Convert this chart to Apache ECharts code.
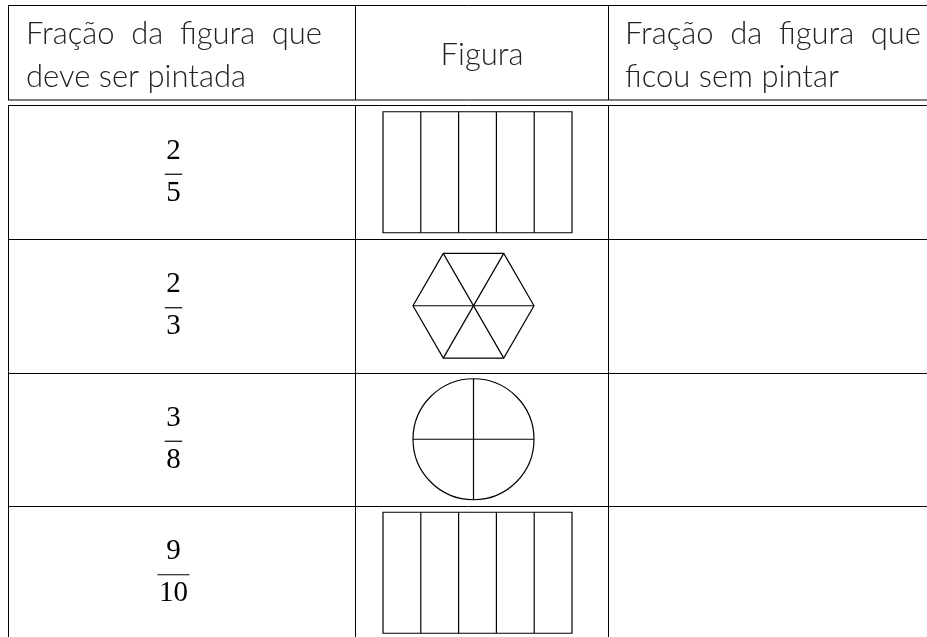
<!DOCTYPE html>
<html>
<head>
<meta charset="utf-8">
<script src="https://cdn.jsdelivr.net/npm/echarts@6/dist/echarts.min.js"></script>
<style>
html,body{margin:0;padding:0;background:#fff;}
#chart{width:927px;height:637px;}
</style>
</head>
<body>
<div id="chart"></div>
<script>
// ---- data ----
const headerCol1 = ['Fração da figura que', 'deve ser pintada'];
const headerCol2 = ['Figura'];
const headerCol3 = ['Fração da figura que', 'ficou sem pintar'];
const numerators = [2, 2, 3, 9];
const denominators = [5, 3, 8, 10];
const figureShapes = ['rectangle', 'hexagon', 'circle', 'rectangle'];
const figureParts = [5, 6, 4, 5];

// ---- layout (page units on a 927 x 637 value plane) ----
const W = 927, H = 637;
const layout = {
  left: 8.5, col1: 355.5, col2: 608.5, right: 927,
  top: 5.5, headLine1: 100, headLine2: 105.5, rowH: 133.5,
  fracX: 173.5, fracNumDy: -21, fracDenDy: 21, fracBarDy: 2,
  figRectCx: 477.5, figRoundCx: 473.5,
  rectW: 189, rectH: 121, hexR: 60.5, circR: 60.5,
  headFont: '300 31px Lato', fracFont: '29px "Liberation Serif", "DejaVu Serif", serif',
  head1X: 26, head3X: 625, justifyW: 296, head1Y: 34, head2Y: 77, headMidY: 55
};

const mctx = document.createElement('canvas').getContext('2d');
function textWidth(t, font){ mctx.font = font; return mctx.measureText(t).width; }

const chart = echarts.init(document.getElementById('chart'), null, {renderer: 'canvas'});

function lineEl(api, x1, y1, x2, y2, w, color){
  const p1 = api.coord([x1, y1]), p2 = api.coord([x2, y2]);
  return {type: 'line', shape: {x1: p1[0], y1: p1[1], x2: p2[0], y2: p2[1]},
          style: {stroke: color || '#000', lineWidth: w || 1}};
}
function textEl(api, t, x, y, font, align, color){
  const p = api.coord([x, y]);
  return {type: 'text', style: {text: t, x: p[0], y: p[1], font: font, fill: color || '#222',
          align: align || 'left', verticalAlign: 'middle'}};
}
function justifiedEls(api, t, x, y, width, font){
  const words = t.split(' ');
  const ws = words.map(w => textWidth(w, font));
  const total = ws.reduce((a, b) => a + b, 0);
  const gap = words.length > 1 ? (width - total) / (words.length - 1) : 0;
  const els = [];
  let cx = x;
  words.forEach((w, k) => { els.push(textEl(api, w, cx, y, font)); cx += ws[k] + gap; });
  return els;
}

function renderTable(params, api){
  const L = layout;
  let ch = [];
  const bottom = H + 2;
  ch.push(lineEl(api, L.left - 0.5, L.top, L.right, L.top));
  ch.push(lineEl(api, L.left - 0.5, L.headLine1, L.right, L.headLine1));
  ch.push(lineEl(api, L.left - 0.5, L.headLine2, L.right, L.headLine2));
  [L.left, L.col1, L.col2].forEach(x => {
    ch.push(lineEl(api, x, L.top, x, L.headLine1));
    ch.push(lineEl(api, x, L.headLine2, x, bottom));
  });
  for (let k = 1; k < numerators.length; k++) {
    const y = L.headLine2 + k * L.rowH;
    ch.push(lineEl(api, L.left - 0.5, Math.round(y) + 0.5, L.right, Math.round(y) + 0.5));
  }
  // headers
  ch = ch.concat(justifiedEls(api, headerCol1[0], L.head1X, L.head1Y, L.justifyW, L.headFont));
  ch.push(textEl(api, headerCol1[1], L.head1X, L.head2Y, L.headFont));
  ch.push(textEl(api, headerCol2[0], (L.col1 + L.col2) / 2, L.headMidY, L.headFont, 'center'));
  ch = ch.concat(justifiedEls(api, headerCol3[0], L.head3X, L.head1Y, L.justifyW, L.headFont));
  ch.push(textEl(api, headerCol3[1], L.head3X, L.head2Y, L.headFont));
  return {type: 'group', children: ch};
}

function renderRow(params, api){
  const L = layout;
  const i = api.value(0);
  const cy = L.headLine2 + (i + 0.5) * L.rowH;
  const ch = [];
  // fraction
  const num = String(numerators[i]), den = String(denominators[i]);
  const bw = Math.max(textWidth(num, L.fracFont), textWidth(den, L.fracFont)) + 3;
  ch.push(textEl(api, num, L.fracX, cy + L.fracNumDy, L.fracFont, 'center', '#000'));
  ch.push(textEl(api, den, L.fracX, cy + L.fracDenDy, L.fracFont, 'center', '#000'));
  ch.push(lineEl(api, L.fracX - bw / 2, cy + L.fracBarDy, L.fracX + bw / 2, cy + L.fracBarDy, 1.2));
  // figure
  const shape = figureShapes[i], n = figureParts[i];
  const st = {stroke: '#000', lineWidth: 1.2, fill: 'none'};
  if (shape === 'rectangle') {
    const c = api.coord([L.figRectCx, cy]);
    const s = api.size([L.rectW, L.rectH]);
    const x0 = c[0] - s[0] / 2, y0 = c[1] - s[1] / 2;
    ch.push({type: 'rect', shape: {x: x0, y: y0, width: s[0], height: s[1]}, style: st});
    for (let k = 1; k < n; k++) {
      const x = x0 + s[0] * k / n;
      ch.push({type: 'line', shape: {x1: x, y1: y0, x2: x, y2: y0 + s[1]}, style: st});
    }
  } else if (shape === 'hexagon') {
    const c = api.coord([L.figRoundCx, cy]);
    const r = api.size([L.hexR, 0])[0];
    const pts = [];
    for (let k = 0; k < n; k++) {
      const a = Math.PI * 2 * k / n;
      pts.push([c[0] + r * Math.cos(a), c[1] - r * Math.sin(a)]);
    }
    ch.push({type: 'polygon', shape: {points: pts}, style: st});
    for (let k = 0; k < n / 2; k++) {
      ch.push({type: 'line', shape: {x1: pts[k][0], y1: pts[k][1], x2: pts[k + n / 2][0], y2: pts[k + n / 2][1]}, style: st});
    }
  } else if (shape === 'circle') {
    const c = api.coord([L.figRoundCx, cy]);
    const r = api.size([L.circR, 0])[0];
    ch.push({type: 'circle', shape: {cx: c[0], cy: c[1], r: r}, style: st});
    for (let k = 0; k < n / 2; k++) {
      const a = Math.PI * 2 * k / n;
      ch.push({type: 'line', shape: {x1: c[0] + r * Math.cos(a), y1: c[1] - r * Math.sin(a),
        x2: c[0] - r * Math.cos(a), y2: c[1] + r * Math.sin(a)}, style: st});
    }
  }
  return {type: 'group', children: ch};
}

chart.setOption({
  animation: false,
  backgroundColor: '#fff',
  grid: {left: 0, right: 0, top: 0, bottom: 0},
  xAxis: {type: 'value', min: 0, max: W, show: false},
  yAxis: {type: 'value', min: 0, max: H, inverse: true, show: false},
  series: [
    {type: 'custom', renderItem: renderTable, data: [[0]], silent: true, clip: false},
    {type: 'custom', renderItem: renderRow, data: numerators.map((v, i) => [i]), silent: true, clip: false}
  ]
});
</script>
</body>
</html>
